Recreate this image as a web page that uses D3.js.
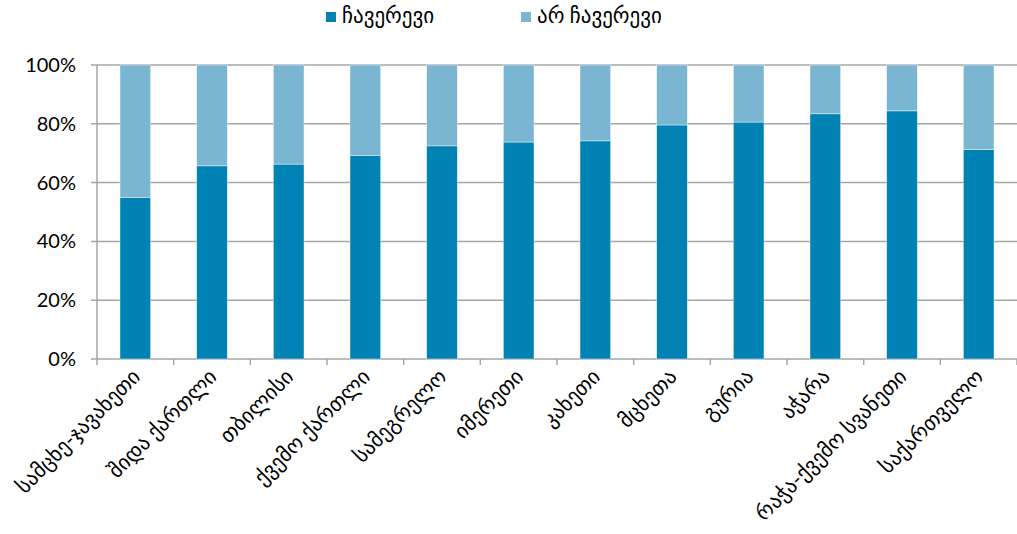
<!doctype html>
<html>
<head>
<meta charset="utf-8">
<script src="https://d3js.org/d3.v7.min.js"></script>
<style>
body {margin:0; background:#fff;}
svg text {font-family: Lato, "DejaVu Sans", sans-serif; fill:#000;}
</style>
</head>
<body>
<svg id="chart" width="1017" height="534"></svg>
<script>
// regions (x categories)
var regions = ["სამცხე-ჯავახეთი", "შიდა ქართლი", "თბილისი", "ქვემო ქართლი", "სამეგრელო",
  "იმერეთი", "კახეთი", "მცხეთა", "გურია", "აჭარა", "რაჭა-ქვემო სვანეთი", "საქართველო"];
// share that would intervene (%)
var yes = [55.0, 65.7, 66.3, 69.3, 72.5, 73.8, 74.2, 79.6, 80.6, 83.4, 84.4, 71.3];
// share that would not intervene (%)
var no = yes.map(function(v) { return 100 - v; });
var seriesNames = ["ჩავერევი", "არ ჩავერევი"];
var yTicks = [0, 20, 40, 60, 80, 100];

var colors = ["#0083B4", "#7AB5D2"];

var svg = d3.select("#chart");
var plotLeft = 97, plotRight = 1017, plotTop = 65, plotBottom = 359;

var x = d3.scaleBand().domain(regions).range([plotLeft, plotRight]).paddingInner(0.6).paddingOuter(0.3);
var xEdge = d3.scaleBand().domain(regions).range([plotLeft, plotRight]);
var y = d3.scaleLinear().domain([0, 100]).range([plotBottom, plotTop]);

// gridlines
svg.append("g").selectAll("line").data(yTicks).join("line")
  .attr("x1", plotLeft - 6).attr("x2", plotRight)
  .attr("y1", function(d) { return y(d); }).attr("y2", function(d) { return y(d); })
  .style("stroke", "#A6A6A6").style("stroke-width", 1.5);

// y labels
svg.append("g").selectAll("text").data(yTicks).join("text")
  .attr("x", 76).attr("y", function(d) { return y(d) + 7; })
  .attr("text-anchor", "end")
  .style("font-size", "20px")
  .text(function(d) { return d + "%"; });

// stacked data
var rows = regions.map(function(r, i) { return {region: r, yes: yes[i], no: no[i]}; });
var stack = d3.stack().keys(["yes", "no"])(rows);

svg.append("g").selectAll("g").data(stack).join("g")
  .style("fill", function(d, i) { return colors[i]; })
  .selectAll("rect").data(function(d) { return d; }).join("rect")
  .attr("x", function(d) { return x(d.data.region); })
  .attr("width", x.bandwidth())
  .attr("y", function(d) { return y(d[1]); })
  .attr("height", function(d) { return y(d[0]) - y(d[1]); })
  .style("stroke", "#ffffff").style("stroke-width", 0.6).style("stroke-opacity", 0.7);

// y axis line
svg.append("line").attr("x1", plotLeft).attr("x2", plotLeft).attr("y1", plotTop).attr("y2", plotBottom)
  .style("stroke", "#A6A6A6").style("stroke-width", 1.5);

// x axis ticks
var edges = regions.map(function(r) { return xEdge(r); }).concat([plotRight]);
svg.append("g").selectAll("line").data(edges).join("line")
  .attr("x1", function(d) { return d; }).attr("x2", function(d) { return d; })
  .attr("y1", plotBottom).attr("y2", plotBottom + 6)
  .style("stroke", "#A6A6A6").style("stroke-width", 1.5);

// x labels
svg.append("g").selectAll("text").data(regions).join("text")
  .attr("transform", function(d) {
    var cx = x(d) + x.bandwidth() / 2 + 6;
    return "translate(" + cx + "," + 378 + ")rotate(-45)";
  })
  .attr("text-anchor", "end")
  .style("font-size", "21px")
  .text(function(d) { return d; });

// legend
var legendX = [326, 521];
var lg = svg.append("g").selectAll("g").data(seriesNames).join("g")
  .attr("transform", function(d, i) { return "translate(" + legendX[i] + ",12)"; });
lg.append("rect").attr("width", 10).attr("height", 10)
  .style("fill", function(d, i) { return colors[i]; });
lg.append("text").attr("x", 16).attr("y", 11)
  .style("font-size", "21px")
  .text(function(d) { return d; });
</script>
</body>
</html>
